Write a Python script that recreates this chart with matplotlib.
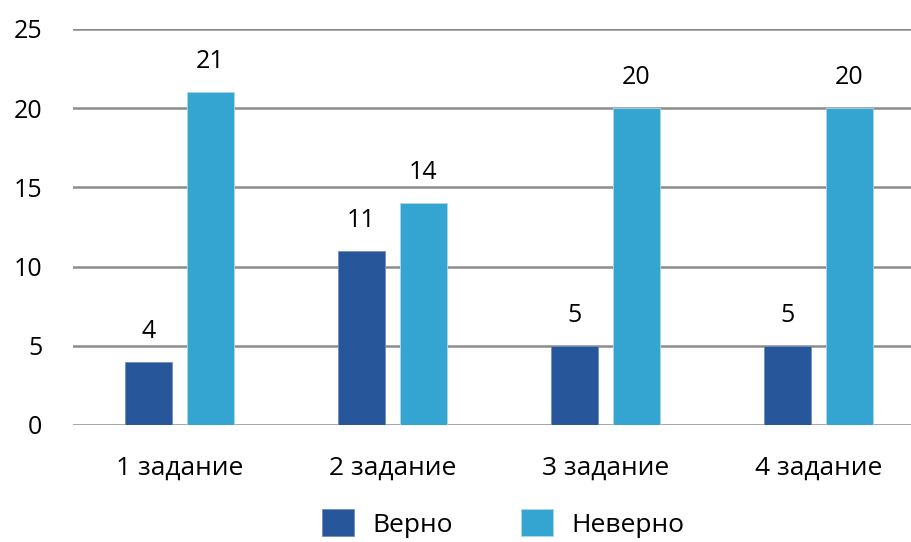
import matplotlib.pyplot as plt
import numpy as np

plt.rcParams['font.family'] = ['Open Sans', 'DejaVu Sans']

categories = ['1 задание', '2 задание', '3 задание', '4 задание']
verno = [4, 11, 5, 5]
neverno = [21, 14, 20, 20]
series_names = ['Верно', 'Неверно']

c_dark = '#27579a'
c_light = '#33a5d0'

fig = plt.figure(figsize=(9.12, 5.42), dpi=100)
ax = fig.add_axes([0.080, 0.2159, 0.92, 0.7306])

x = np.arange(len(categories))
w = 0.22
off = 0.145
b1 = ax.bar(x - off, verno, w, color=c_dark, edgecolor='#6f8fc0', linewidth=0.6, label=series_names[0], zorder=3)
b2 = ax.bar(x + off, neverno, w, color=c_light, edgecolor='#a8d8ec', linewidth=0.6, label=series_names[1], zorder=3)

for bars in (b1, b2):
    for r in bars:
        ax.annotate(f'{int(r.get_height())}', (r.get_x() + r.get_width() / 2, r.get_height()),
                    xytext=(0, 13), textcoords='offset points',
                    ha='center', va='bottom', fontsize=18, color='black')

ax.set_ylim(0, 25)
ax.set_xlim(-0.5, 3.44)
ax.set_yticks(range(0, 26, 5))
ax.set_xticks(x)
ax.set_xticklabels(categories, fontsize=19)
ax.yaxis.grid(True, color='#8c8c8c', linewidth=1.8, zorder=0)
ax.set_axisbelow(True)
for s in ax.spines.values():
    s.set_visible(False)
ax.tick_params(axis='y', length=0, labelsize=18, colors='black', pad=22)
ax.tick_params(axis='x', length=0, colors='black', pad=22)

fig.legend(handles=[b1, b2], loc='center', bbox_to_anchor=(0.552, 0.034), ncol=2, frameon=False,
           fontsize=19, handlelength=1.2, handleheight=1.2, columnspacing=2.6, handletextpad=0.7,
           borderpad=0.1)

fig.savefig('out.png', dpi=100)
